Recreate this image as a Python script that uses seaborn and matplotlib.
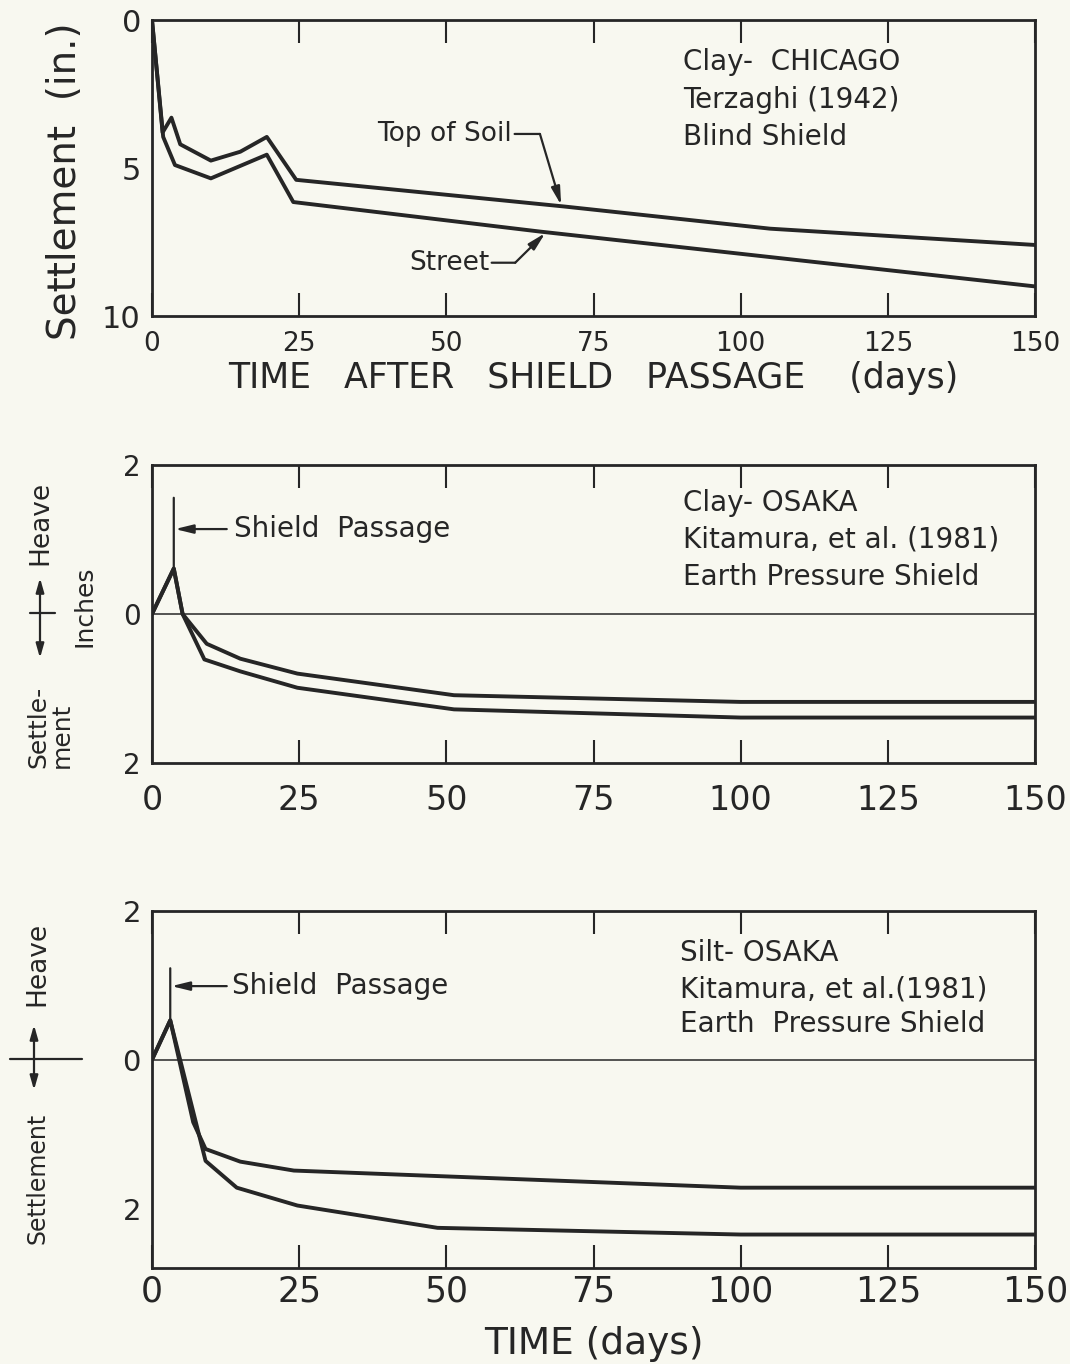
import matplotlib.pyplot as plt
import seaborn as sns
from matplotlib.lines import Line2D

# Clay - Chicago (Terzaghi 1942), settlement in inches (down is positive)
chicago_soil_days = [0, 1.8, 3.3, 4.8, 10, 15, 19.5, 24.5, 70, 105, 150]
chicago_soil_in = [0, 3.8, 3.3, 4.2, 4.75, 4.45, 3.95, 5.4, 6.3, 7.05, 7.6]
chicago_street_days = [0, 1.9, 3.9, 10, 19.5, 24, 66, 150]
chicago_street_in = [0, 3.95, 4.9, 5.35, 4.55, 6.15, 7.15, 9.0]

# Clay - Osaka (Kitamura et al. 1981), heave positive, settlement negative
osaka_clay_days_a = [0, 3.7, 5.2, 9.3, 15, 24.7, 51.3, 100, 150]
osaka_clay_in_a = [0, 0.61, 0, -0.40, -0.60, -0.80, -1.09, -1.18, -1.18]
osaka_clay_days_b = [0, 3.7, 5.2, 8.9, 15, 24.7, 51.3, 100, 150]
osaka_clay_in_b = [0, 0.61, 0, -0.61, -0.77, -0.99, -1.28, -1.39, -1.39]

# Silt - Osaka (Kitamura et al. 1981)
osaka_silt_days_a = [0, 3.1, 7.0, 9.1, 15, 24.1, 100, 150]
osaka_silt_in_a = [0, 0.53, -0.84, -1.20, -1.37, -1.49, -1.72, -1.72]
osaka_silt_days_b = [0, 3.1, 9.1, 14.4, 24.7, 48.5, 100, 150]
osaka_silt_in_b = [0, 0.53, -1.36, -1.72, -1.96, -2.26, -2.35, -2.35]

day_ticks = [0, 25, 50, 75, 100, 125, 150]
chicago_notes = ['Clay-  CHICAGO', 'Terzaghi (1942)', 'Blind Shield']
clay_notes = ['Clay- OSAKA', 'Kitamura, et al. (1981)', 'Earth Pressure Shield']
silt_notes = ['Silt- OSAKA', 'Kitamura, et al.(1981)', 'Earth  Pressure Shield']

W, H = 1070, 1364
ink = '#262626'
paper = '#f8f8f0'

sns.set_theme(style='white', rc={
    'figure.facecolor': paper, 'axes.facecolor': paper, 'savefig.facecolor': paper,
    'axes.edgecolor': ink, 'text.color': ink, 'axes.labelcolor': ink,
    'xtick.color': ink, 'ytick.color': ink,
})
plt.rcParams['font.family'] = ['DejaVu Sans']

fig = plt.figure(figsize=(W / 100, H / 100), dpi=100)


def box(left, top, right, bottom):
    return [left / W, 1 - bottom / H, (right - left) / W, (bottom - top) / H]


def fp(x, y):
    # figure pixels measured from the top-left corner -> figure fraction
    return (x / W, 1 - y / H)


ax1 = fig.add_axes(box(152, 20, 1035, 316))
ax2 = fig.add_axes(box(152, 465, 1035, 763))
ax3 = fig.add_axes(box(152, 911, 1035, 1268))

line_kw = dict(color=ink, lw=2.8, estimator=None, sort=False, legend=False)
sns.lineplot(x=chicago_soil_days, y=chicago_soil_in, ax=ax1, **line_kw)
sns.lineplot(x=chicago_street_days, y=chicago_street_in, ax=ax1, **line_kw)
sns.lineplot(x=osaka_clay_days_a, y=osaka_clay_in_a, ax=ax2, **line_kw)
sns.lineplot(x=osaka_clay_days_b, y=osaka_clay_in_b, ax=ax2, **line_kw)
sns.lineplot(x=osaka_silt_days_a, y=osaka_silt_in_a, ax=ax3, **line_kw)
sns.lineplot(x=osaka_silt_days_b, y=osaka_silt_in_b, ax=ax3, **line_kw)


def frame(ax, ylim, yticks, ylabels, xsize, xpad, ysize):
    ax.set_xlim(0, 150)
    ax.set_ylim(*ylim)
    ax.set_xticks(day_ticks)
    ax.set_yticks(yticks)
    ax.set_yticklabels(ylabels)
    ax.tick_params(axis='x', direction='in', length=16.5, width=1.5,
                   top=True, bottom=True, labelsize=xsize, pad=xpad)
    ax.tick_params(axis='y', length=0, labelsize=ysize, pad=8)
    ax.set_xlabel('')
    ax.set_ylabel('')
    for s in ax.spines.values():
        s.set_visible(True)
        s.set_linewidth(2.0)
        s.set_color(ink)


frame(ax1, (10, 0), [0, 5, 10], ['0', '5', '10'], 19, 11, 22)
frame(ax2, (-2, 2), [2, 0, -2], ['2', '0', '2'], 24, 15, 20)
frame(ax3, (-2.8, 2.0), [2, 0, -2], ['2', '0', '2'], 25, 5, 21)

for ax in (ax2, ax3):
    ax.axhline(0, color=ink, lw=1.1, zorder=1)

ax1.set_xlabel('TIME   AFTER   SHIELD   PASSAGE    (days)', fontsize=25, labelpad=3)
ax3.set_xlabel('TIME (days)', fontsize=27, labelpad=12)

# text blocks
for ax, notes, x0, ys in [(ax1, chicago_notes, 90.2, [1.42, 2.70, 3.95]),
                          (ax2, clay_notes, 90.2, [1.49, 1.00, 0.49]),
                          (ax3, silt_notes, 89.7, [1.43, 0.94, 0.48])]:
    for txt, y in zip(notes, ys):
        ax.text(x0, y, txt, fontsize=20, ha='left', va='center')

arrow = dict(arrowstyle='-|>,head_length=0.9,head_width=0.22', color=ink,
             lw=1.6, shrinkA=0, shrinkB=0)
plain = dict(arrowstyle='-', color=ink, lw=1.6, shrinkA=0, shrinkB=0)

# curve labels, panel 1
ax1.text(61.2, 3.85, 'Top of Soil', fontsize=19, ha='right', va='center')
ax1.annotate('', xy=(65.9, 3.85), xytext=(61.6, 3.85), arrowprops=plain)
ax1.annotate('', xy=(69.5, 6.25), xytext=(65.9, 3.85), arrowprops=arrow)
ax1.text(57.3, 8.2, 'Street', fontsize=19, ha='right', va='center')
ax1.annotate('', xy=(61.7, 8.2), xytext=(57.7, 8.2), arrowprops=plain)
ax1.annotate('', xy=(66.8, 7.2), xytext=(61.7, 8.2), arrowprops=arrow)

# shield passage markers
for ax, xd, top, peak, ya, xt in [(ax2, 3.7, 1.56, 0.61, 1.14, 14.0),
                                  (ax3, 3.1, 1.23, 0.53, 0.99, 13.6)]:
    ax.annotate('', xy=(xd, peak), xytext=(xd, top), arrowprops=plain)
    ax.annotate('', xy=(xd + 0.2, ya), xytext=(12.7, ya), arrowprops=arrow)
    ax.text(xt, ya, 'Shield  Passage', fontsize=20, ha='left', va='center')

# outer axis captions
fig.text(*fp(65, 181), 'Settlement  (in.)', rotation=90, ha='center', va='center',
         fontsize=28)

dbl = dict(arrowstyle='<|-|>,head_length=0.7,head_width=0.2', color=ink, lw=1.6,
           shrinkA=0, shrinkB=0)

# panel 2 caption
fig.text(*fp(40, 523), 'Heave', rotation=90, ha='center', va='center', fontsize=19)
ax2.annotate('', xy=fp(40, 578), xytext=fp(40, 658), xycoords='figure fraction',
             textcoords='figure fraction', arrowprops=dbl)
fig.add_artist(Line2D([30 / W, 55 / W], [1 - 613 / H] * 2, color=ink, lw=1.6,
                      transform=fig.transFigure))
fig.text(*fp(50, 768), 'Settle-\nment', rotation=90, ha='center', va='bottom',
         fontsize=18, linespacing=0.95, multialignment='left')
fig.text(*fp(85, 606), 'Inches', rotation=90, ha='center', va='center', fontsize=18)

# panel 3 caption
fig.text(*fp(37, 964), 'Heave', rotation=90, ha='center', va='center', fontsize=19)
ax3.annotate('', xy=fp(34, 1025), xytext=fp(34, 1090), xycoords='figure fraction',
             textcoords='figure fraction', arrowprops=dbl)
fig.add_artist(Line2D([10 / W, 82 / W], [1 - 1059 / H] * 2, color=ink, lw=1.6,
                      transform=fig.transFigure))
fig.text(*fp(37, 1178), 'Settlement', rotation=90, ha='center', va='center', fontsize=17)

fig.savefig('out.png', dpi=100)
